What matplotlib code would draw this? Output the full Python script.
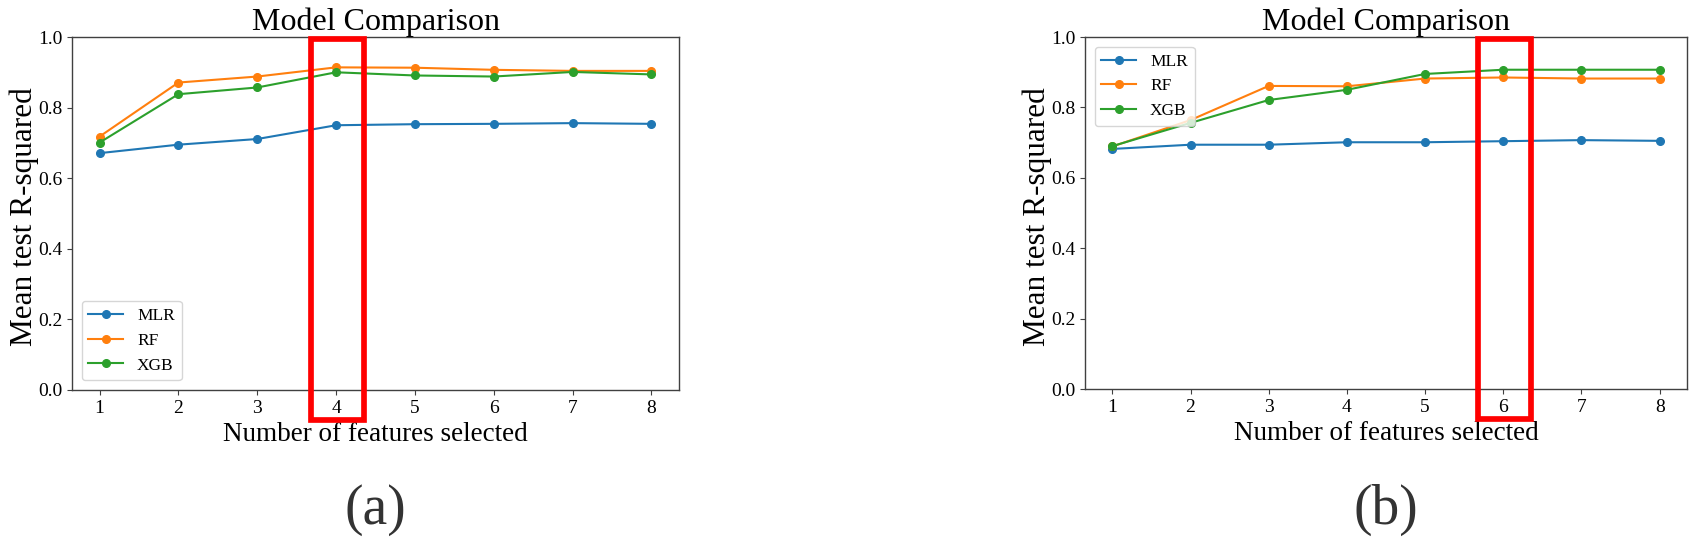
import matplotlib
matplotlib.use("Agg")
import matplotlib.pyplot as plt
from matplotlib.patches import Rectangle

plt.rcParams['font.family'] = ['Liberation Serif', 'DejaVu Serif']

features = [1, 2, 3, 4, 5, 6, 7, 8]
x_ticks = [1, 2, 3, 4, 5, 6, 7, 8]
y_ticks = [0.0, 0.2, 0.4, 0.6, 0.8, 1.0]
model_names = ["MLR", "RF", "XGB"]

# panel (a)
mlr_a = [0.671, 0.695, 0.711, 0.750, 0.753, 0.754, 0.756, 0.754]
rf_a = [0.718, 0.871, 0.888, 0.914, 0.913, 0.907, 0.904, 0.904]
xgb_a = [0.701, 0.838, 0.857, 0.900, 0.891, 0.888, 0.901, 0.894]
# panel (b)
mlr_b = [0.682, 0.694, 0.694, 0.701, 0.701, 0.704, 0.707, 0.705]
rf_b = [0.689, 0.764, 0.861, 0.860, 0.882, 0.885, 0.882, 0.882]
xgb_b = [0.690, 0.756, 0.821, 0.850, 0.895, 0.907, 0.907, 0.907]

highlight_a = 4
highlight_b = 6
panel_labels = ["(a)", "(b)"]

colors = ["#1f77b4", "#ff7f0e", "#2ca02c"]

W, H = 1695, 537
fig = plt.figure(figsize=(W / 100, H / 100), dpi=100)

panels = [
    dict(rect=[72 / W, (H - 390) / H, 607 / W, 353 / H], data=[mlr_a, rf_a, xgb_a],
         hl=highlight_a, loc="lower left", label=panel_labels[0]),
    dict(rect=[1085 / W, (H - 389) / H, 602 / W, 352 / H], data=[mlr_b, rf_b, xgb_b],
         hl=highlight_b, loc="upper left", label=panel_labels[1]),
]

for p in panels:
    ax = fig.add_axes(p["rect"])
    for name, vals, c in zip(model_names, p["data"], colors):
        ax.plot(features, vals, marker="o", markersize=5.5, lw=1.5, color=c, label=name)
    ax.set_ylim(0.0, 1.0)
    ax.set_xticks(x_ticks)
    ax.set_yticks(y_ticks)
    ax.set_yticklabels([f"{v:.1f}" for v in y_ticks])
    ax.tick_params(labelsize=14, color="#404040")
    for s in ax.spines.values():
        s.set_color("#404040")
        s.set_linewidth(1.0)
    ax.set_title("Model Comparison", fontsize=23, pad=2)
    ax.set_xlabel("Number of features selected", fontsize=19.5, labelpad=4)
    ax.set_ylabel("Mean test R-squared", fontsize=22.5)
    ax.yaxis.set_label_coords(-0.054, 0.49)
    ax.legend(loc=p["loc"], fontsize=12.5, borderaxespad=0.55, handlelength=2.0)
    hx = p["hl"]
    rect = Rectangle((hx - 0.32, -0.085), 0.67, 1.08, transform=ax.transData,
                     fill=False, edgecolor="#ff0000", linewidth=4.1, clip_on=False, zorder=5)
    ax.add_patch(rect)
    # panel label below
    bb = p["rect"]
    fig.text(bb[0] + bb[2] / 2, 13 / H, p["label"], ha="center", va="baseline",
             fontsize=40, color="#333333")

fig.savefig("out.png", dpi=100)
